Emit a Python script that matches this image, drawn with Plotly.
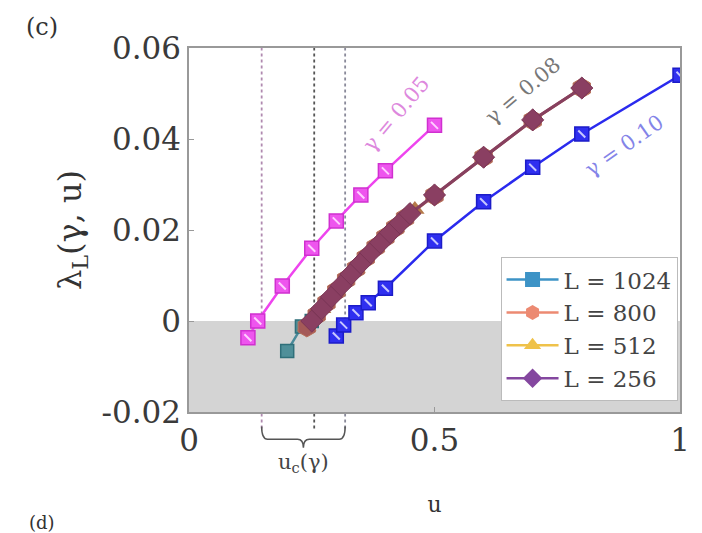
import plotly.graph_objects as go

# gamma = 0.05 (L = 1024)
u_g005 = [0.12, 0.14, 0.19, 0.25, 0.30, 0.35, 0.40, 0.50]
lam_g005 = [-0.0037, 0.0, 0.0077, 0.016, 0.022, 0.0277, 0.033, 0.043]

# gamma = 0.10 (L = 1024)
u_g010 = [0.30, 0.315, 0.34, 0.365, 0.40, 0.50, 0.60, 0.70, 0.80, 1.00]
lam_g010 = [-0.0033, -0.0009, 0.0018, 0.0040, 0.0072, 0.0176, 0.0262, 0.0338, 0.0411, 0.054]

# gamma = 0.08, several system sizes
u_g008_L1024 = [0.20, 0.23, 0.25]
lam_g008_L1024 = [-0.0066, -0.0012, 0.0]

u_g008_L512 = [0.24, 0.27, 0.30, 0.34, 0.38, 0.42, 0.46]
lam_g008_L512 = [-0.0012, 0.0027, 0.0066, 0.0115, 0.0162, 0.0205, 0.0245]

u_g008_L800 = [0.24, 0.26, 0.28, 0.30, 0.32, 0.34, 0.36, 0.38, 0.40, 0.42, 0.44, 0.50, 0.60, 0.70, 0.80]
lam_g008_L800 = [-0.0013, 0.0013, 0.0040, 0.0066, 0.0091, 0.0115, 0.0139, 0.0162, 0.0184, 0.0205, 0.0226, 0.0276, 0.0360, 0.0441, 0.0512]

u_g008_L256 = [0.25, 0.27, 0.29, 0.31, 0.33, 0.35, 0.37, 0.39, 0.41, 0.43, 0.45, 0.50, 0.60, 0.70, 0.80]
lam_g008_L256 = [0.0, 0.0027, 0.0053, 0.0078, 0.0103, 0.0127, 0.0150, 0.0172, 0.0194, 0.0215, 0.0236, 0.0277, 0.0360, 0.0442, 0.0512]

# critical-point guides
u_guides = [0.148, 0.255, 0.318]
guide_colors = ["#b08ab0", "#555555", "#8a8a9a"]

legend_labels = ["L = 1024", "L = 800", "L = 512", "L = 256"]
legend_colors = ["#3d93c6", "#ec8a72", "#efc24a", "#84479f"]
legend_symbols = ["square", "hexagon", "triangle-up", "diamond"]

y_ticks = [-0.02, 0, 0.02, 0.04, 0.06]
y_ticktext = ["-0.02", "0", "0.02", "0.04", "0.06"]
x_ticks = [0, 0.5, 1]
x_ticktext = ["0", "0.5", "1"]

SERIF = "DejaVu Serif"

# plot-area geometry in pixels, used to place panel labels
L_PX, T_PX, W_PX, H_PX = 189, 48, 497, 364


def px_to_paper(px, py):
    return (px - L_PX) / W_PX, 1 - (py - T_PX) / H_PX


fig = go.Figure()

# shaded negative region
fig.add_shape(type="rect", xref="x", yref="y", x0=0, x1=1, y0=-0.02, y1=0,
              fillcolor="#d4d4d4", line_width=0, layer="below")

# gamma = 0.08 curves, all sizes overlapping
fig.add_trace(go.Scatter(x=u_g008_L1024, y=lam_g008_L1024, mode="lines+markers",
                         line=dict(color="#4a8a9a", width=2.5),
                         marker=dict(symbol="square", size=13, color="#4f8f99",
                                     line=dict(color="#2f6f7a", width=1.5)),
                         showlegend=False))
fig.add_trace(go.Scatter(x=u_g008_L512, y=lam_g008_L512, mode="lines+markers",
                         line=dict(color="#b0704a", width=2.5),
                         marker=dict(symbol="triangle-up", size=17, color="#b57a4a"),
                         showlegend=False))
fig.add_trace(go.Scatter(x=u_g008_L800, y=lam_g008_L800, mode="lines+markers",
                         line=dict(color="#a35a55", width=3),
                         marker=dict(symbol="hexagon", size=20, color="#a45a58",
                                     line=dict(color="#b8705a", width=1)),
                         showlegend=False))
fig.add_trace(go.Scatter(x=u_g008_L256, y=lam_g008_L256, mode="lines+markers",
                         line=dict(color="#87405f", width=3),
                         marker=dict(symbol="diamond", size=17, color="#8a3f62",
                                     line=dict(color="#7a3556", width=1)),
                         showlegend=False))

# gamma = 0.05
fig.add_trace(go.Scatter(x=u_g005, y=lam_g005, mode="lines+markers",
                         line=dict(color="#ee44ee", width=2.5),
                         marker=dict(symbol="square", size=14, color="#ee55ee",
                                     line=dict(color="#d030d0", width=1.5)),
                         showlegend=False))
fig.add_trace(go.Scatter(x=u_g005, y=lam_g005, mode="markers",
                         marker=dict(symbol="line-nw", size=7,
                                     line=dict(color="#ffd0ff", width=2)),
                         hoverinfo="skip", showlegend=False))

# gamma = 0.10
fig.add_trace(go.Scatter(x=u_g010, y=lam_g010, mode="lines+markers",
                         line=dict(color="#2a2aee", width=2.5),
                         marker=dict(symbol="square", size=14, color="#2f2ff0",
                                     line=dict(color="#1c1cc8", width=1.5)),
                         showlegend=False))
fig.add_trace(go.Scatter(x=u_g010, y=lam_g010, mode="markers",
                         marker=dict(symbol="line-nw", size=7,
                                     line=dict(color="#c8c8ff", width=2)),
                         hoverinfo="skip", showlegend=False))

# legend entries
for lab, col, sym in zip(legend_labels, legend_colors, legend_symbols):
    fig.add_trace(go.Scatter(x=[None], y=[None], mode="lines+markers", name=lab,
                             line=dict(color=col, width=2.5),
                             marker=dict(symbol=sym, size=15, color=col)))

# vertical guides through the critical points
for ug, gc in zip(u_guides, guide_colors):
    fig.add_shape(type="line", xref="x", yref="paper", x0=ug, x1=ug, y0=-0.045, y1=1,
                  line=dict(color=gc, width=1.8, dash="dot"), layer="below")

# brace under the axis spanning the guides
xa, xb = u_guides[0], u_guides[2]
xc = (xa + xb) / 2
yt, ym, yp = -0.040, -0.075, -0.098
d = 0.012
brace = (f"M {xa},{yt} Q {xa},{ym} {xa + d},{ym} L {xc - d},{ym} "
         f"Q {xc},{ym} {xc},{yp} Q {xc},{ym} {xc + d},{ym} "
         f"L {xb - d},{ym} Q {xb},{ym} {xb},{yt}")
fig.add_shape(type="path", xref="x", yref="paper", path=brace,
              line=dict(color="#555555", width=1.5))

c_x, c_y = px_to_paper(40, 27)
d_x, d_y = px_to_paper(40, 522)
_, uc_y = px_to_paper(0, 463)

annotations = [
    dict(x=xc, y=uc_y, xref="x", yref="paper", text="u<sub>c</sub>(γ)",
         xanchor="center", yanchor="middle", showarrow=False,
         font=dict(family=SERIF, size=21, color="#444444")),
    dict(x=0.422, y=0.0455, xref="x", yref="y", text="γ = 0.05", textangle=-50,
         showarrow=False, font=dict(family=SERIF, size=21, color="#dd88dd")),
    dict(x=0.68, y=0.0505, xref="x", yref="y", text="γ = 0.08", textangle=-40,
         showarrow=False, font=dict(family=SERIF, size=21, color="#777777")),
    dict(x=0.885, y=0.0385, xref="x", yref="y", text="γ = 0.10", textangle=-35,
         showarrow=False, font=dict(family=SERIF, size=21, color="#8484e8")),
    dict(x=c_x, y=c_y, xref="paper", yref="paper", text="(c)", showarrow=False,
         xanchor="center", yanchor="middle",
         font=dict(family=SERIF, size=24, color="#333333")),
    dict(x=d_x, y=d_y, xref="paper", yref="paper", text="(d)", showarrow=False,
         xanchor="center", yanchor="middle",
         font=dict(family=SERIF, size=18, color="#333333")),
]

fig.update_layout(
    width=702, height=533,
    margin=dict(l=L_PX, r=16, t=T_PX, b=121),
    paper_bgcolor="white", plot_bgcolor="white",
    font=dict(family=SERIF, color="#333333"),
    annotations=annotations,
    legend=dict(x=0.995, y=0.03, xanchor="right", yanchor="bottom",
                bgcolor="white", bordercolor="#bbbbbb", borderwidth=1,
                font=dict(family=SERIF, size=23, color="#444444"),
                itemwidth=52, tracegroupgap=4),
)
fig.update_xaxes(range=[0, 1], tickvals=x_ticks, ticktext=x_ticktext,
                 tickfont=dict(family=SERIF, size=31, color="#3a3a3a"),
                 showgrid=False, zeroline=False, showline=True, mirror=True,
                 linecolor="#999999", linewidth=1.5, ticks="inside", ticklen=5,
                 tickcolor="#999999",
                 title=dict(text="u", standoff=40,
                            font=dict(family=SERIF, size=22, color="#333333")))
fig.update_yaxes(range=[-0.02, 0.06], tickvals=y_ticks, ticktext=y_ticktext,
                 tickfont=dict(family=SERIF, size=31, color="#3a3a3a"),
                 showgrid=False, zeroline=False, showline=True, mirror=True,
                 linecolor="#999999", linewidth=1.5, ticks="inside", ticklen=5,
                 tickcolor="#999999",
                 title=dict(text="λ<sub>L</sub>(γ, u)", standoff=10,
                            font=dict(family=SERIF, size=32, color="#333333")))

fig.write_html("out.html")
